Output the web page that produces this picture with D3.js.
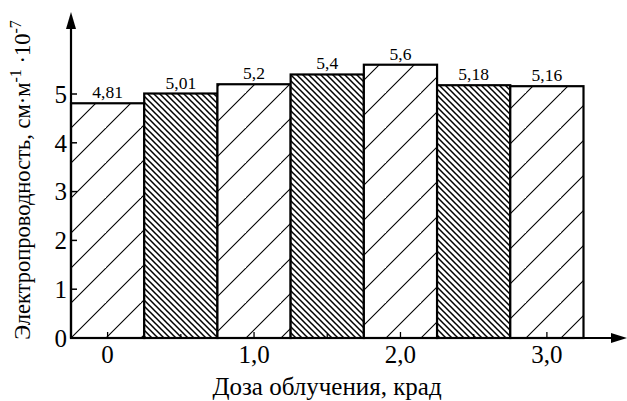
<!DOCTYPE html>
<html>
<head>
<meta charset="utf-8">
<script src="https://cdn.jsdelivr.net/npm/d3@7"></script>
<style>
  body { margin: 0; background: #fff; }
  svg text { font-family: "Liberation Serif", "Times New Roman", "DejaVu Serif", serif; fill: #000; }
</style>
</head>
<body>
<div id="chart"></div>
<script>
/* Bar chart: conductivity vs irradiation dose */

const doses = [0, 0.5, 1, 1.5, 2, 2.5, 3];
const values = [4.81, 5.01, 5.2, 5.4, 5.6, 5.18, 5.16];
const xTicks = [0, 1, 2, 3];
const xMinorTicks = [0.5, 1.5, 2.5];
const yTicks = [0, 1, 2, 3, 4, 5];

let width = 627,
  height = 401;

const svg = d3
  .select("#chart")
  .append("svg")
  .attr("width", width)
  .attr("height", height);

let x = d3.scaleLinear().domain([-0.25, 3.25]).range([71, 583.5]);
let y = d3.scaleLinear().domain([0, 5]).range([338, 94]);
const bw = x(0.5) - x(0);

const comma = (v) => String(v).replace(".", ",");

// hatch patterns
const defs = svg.append("defs");

const sparse = defs
  .append("pattern")
  .attr("id", "sparse")
  .attr("patternUnits", "userSpaceOnUse")
  .attr("x", x(-0.25))
  .attr("y", y(0))
  .attr("width", 35)
  .attr("height", 35);
sparse.append("rect").attr("width", 35).attr("height", 35).attr("fill", "#fff");
sparse
  .append("path")
  .attr("d", "M-2,37 L37,-2 M-37,37 L2,-2 M33,72 L72,33")
  .attr("stroke", "#000")
  .attr("stroke-width", 1.1);

const dense = defs
  .append("pattern")
  .attr("id", "dense")
  .attr("patternUnits", "userSpaceOnUse")
  .attr("width", 6)
  .attr("height", 6);
dense.append("rect").attr("width", 6).attr("height", 6).attr("fill", "#fff");
dense
  .append("path")
  .attr("d", "M-1,-1 L7,7 M-7,-1 L1,7 M5,-1 L13,7")
  .attr("stroke", "#000")
  .attr("stroke-width", 1.5);

// bars
svg
  .append("g")
  .selectAll("rect")
  .data(doses)
  .join("rect")
  .attr("x", (d) => x(d) - bw / 2)
  .attr("y", (d, i) => y(values[i]))
  .attr("width", bw)
  .attr("height", (d, i) => y(0) - y(values[i]))
  .attr("fill", (d, i) => (i % 2 === 0 ? "url(#sparse)" : "url(#dense)"))
  .attr("stroke", "#000")
  .attr("stroke-width", 2.2);

// value labels
svg
  .append("g")
  .selectAll("text")
  .data(doses)
  .join("text")
  .attr("x", (d) => x(d))
  .attr("y", (d, i) => y(values[i]) - 5)
  .attr("text-anchor", "middle")
  .attr("font-size", 17.5)
  .text((d, i) => comma(values[i]));

// axes
const axis = svg.append("g").attr("stroke", "#000").attr("stroke-width", 2.2);
axis
  .append("line")
  .attr("x1", x(-0.25))
  .attr("x2", 615)
  .attr("y1", y(0))
  .attr("y2", y(0));
axis
  .append("line")
  .attr("x1", x(-0.25))
  .attr("x2", x(-0.25))
  .attr("y1", y(0))
  .attr("y2", 25);

svg
  .append("path")
  .attr("d", `M627,${y(0)} L611,${y(0) - 5} L611,${y(0) + 5} Z`)
  .attr("fill", "#000");
svg
  .append("path")
  .attr("d", `M${x(-0.25)},12 L${x(-0.25) - 5},29 L${x(-0.25) + 5},29 Z`)
  .attr("fill", "#000");

// y ticks
svg
  .append("g")
  .selectAll("line")
  .data(yTicks)
  .join("line")
  .attr("x1", x(-0.25))
  .attr("x2", x(-0.25) + 6)
  .attr("y1", (d) => y(d))
  .attr("y2", (d) => y(d))
  .attr("stroke", "#000")
  .attr("stroke-width", 1.5);

svg
  .append("g")
  .selectAll("text")
  .data(yTicks)
  .join("text")
  .attr("x", 67)
  .attr("y", (d) => y(d))
  .attr("dy", "0.35em")
  .attr("text-anchor", "end")
  .attr("font-size", 25)
  .text((d) => d);

// x ticks
svg
  .append("g")
  .selectAll("line")
  .data(xTicks.concat(xMinorTicks))
  .join("line")
  .attr("x1", (d) => x(d))
  .attr("x2", (d) => x(d))
  .attr("y1", y(0))
  .attr("y2", (d) => y(0) - (Number.isInteger(d) ? 6 : 4))
  .attr("stroke", "#000")
  .attr("stroke-width", 1.3);

svg
  .append("g")
  .selectAll("text")
  .data(xTicks)
  .join("text")
  .attr("x", (d) => x(d))
  .attr("y", 363)
  .attr("text-anchor", "middle")
  .attr("font-size", 25)
  .text((d) => (d === 0 ? "0" : comma(d.toFixed(1))));

// axis labels
svg
  .append("text")
  .attr("x", 327)
  .attr("y", 395)
  .attr("text-anchor", "middle")
  .attr("font-size", 25)
  .text("Доза облучения, крад");

const yl = svg
  .append("text")
  .attr("transform", "translate(30,180) rotate(-90)")
  .attr("text-anchor", "middle")
  .attr("font-size", 22.5);
yl.append("tspan").text("Электропроводность, см·м");
yl.append("tspan").attr("dy", -9).attr("font-size", 16).text("-1");
yl.append("tspan").attr("dy", 9).text(" ·10");
yl.append("tspan").attr("dy", -9).attr("font-size", 16).text("-7");
</script>
</body>
</html>
